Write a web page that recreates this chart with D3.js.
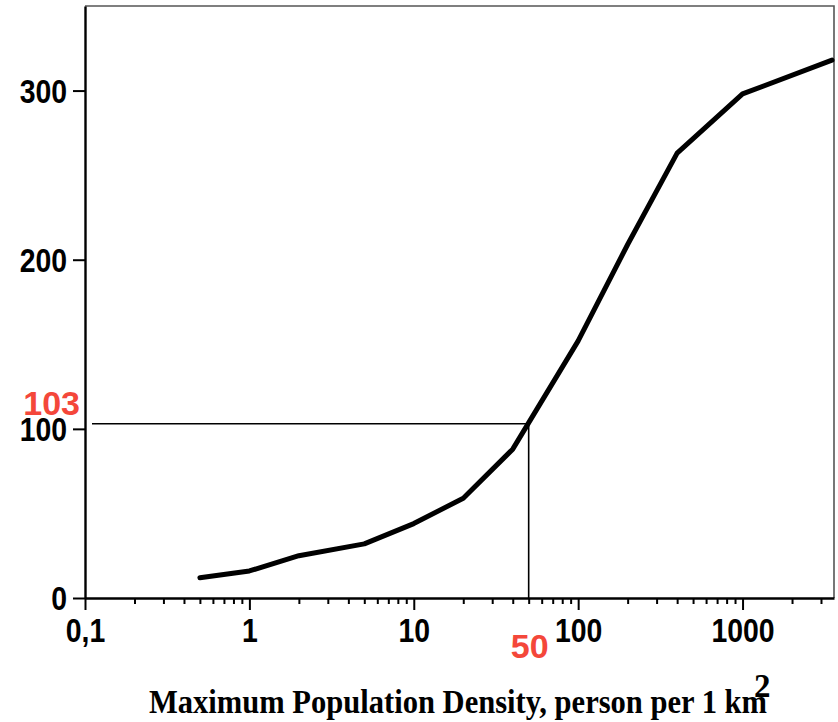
<!DOCTYPE html>
<html>
<head>
<meta charset="utf-8">
<script src="https://cdn.jsdelivr.net/npm/d3@7/dist/d3.min.js"></script>
<style>
  html, body { margin: 0; padding: 0; background: #fff; }
  svg { display: block; }
</style>
</head>
<body>
<svg id="chart" width="838" height="722"></svg>
<script>
// Maximum population density (person per km²) vs. the plotted quantity
const density = [0.5, 1, 2, 5, 10, 20, 40, 100, 200, 400, 1000, 3500];
const values  = [12, 16, 25, 32, 44, 59, 88, 152, 209, 263, 298, 318];

// axis ticks
const xMajorTicks  = [0.1, 1, 10, 100, 1000];
const xMajorLabels = ["0,1", "1", "10", "100", "1000"];
const yTicks       = [0, 100, 200, 300];

// highlighted reading
const markX = 50;
const markY = 103;
const markXLabel = "50";
const markYLabel = "103";

const titleText = "Maximum Population Density,  person per 1 km";
const titleSup  = "2";

const svg = d3.select("#chart");
const plotLeft = 85, plotRight = 834, plotTop = 6, plotBottom = 598;

const x = d3.scaleLog().domain([0.1, 3600]).range([plotLeft, plotRight]);
const y = d3.scaleLinear().domain([0, 350]).range([plotBottom, plotTop]);

const tickFont = "'Liberation Sans', Arial, Helvetica, sans-serif";
const red = "#f4473a";

// frame: top and right edges in gray
svg.append("path")
  .attr("d", `M${plotLeft},${plotTop}H${plotRight}V${plotBottom}`)
  .attr("fill", "none")
  .attr("stroke", "#555")
  .attr("stroke-width", 1.6);

// minor ticks on the log axis
const xMinor = [];
for (let p = -1; p <= 3; p++) {
  for (let m = 2; m <= 9; m++) {
    const v = m * Math.pow(10, p);
    if (v <= x.domain()[1]) xMinor.push(v);
  }
}
const gMinor = svg.append("g")
  .attr("transform", `translate(0,${plotBottom})`)
  .call(d3.axisBottom(x).tickValues(xMinor).tickSize(6).tickFormat(""));
gMinor.select(".domain").remove();
gMinor.selectAll("line").attr("stroke", "#000").attr("stroke-width", 2);

// major x axis
const gx = svg.append("g")
  .attr("transform", `translate(0,${plotBottom})`)
  .call(d3.axisBottom(x).tickValues(xMajorTicks).tickSize(12).tickSizeOuter(0)
    .tickFormat((d, i) => xMajorLabels[i]));
gx.select(".domain").attr("stroke", "#000").attr("stroke-width", 2.4);
gx.selectAll("line").attr("stroke", "#000").attr("stroke-width", 2);
gx.selectAll("text")
  .attr("y", 44).attr("dy", null)
  .attr("font-family", tickFont).attr("font-weight", "bold")
  .attr("font-size", 33).attr("fill", "#000");

// y axis
const gy = svg.append("g")
  .attr("transform", `translate(${plotLeft},0)`)
  .call(d3.axisLeft(y).tickValues(yTicks).tickSize(12).tickSizeOuter(0).tickPadding(6));
gy.select(".domain").attr("stroke", "#000").attr("stroke-width", 2.4);
gy.selectAll("line").attr("stroke", "#000").attr("stroke-width", 2);
gy.selectAll("text")
  .attr("dy", "0.36em")
  .attr("font-family", tickFont).attr("font-weight", "bold")
  .attr("font-size", 33).attr("fill", "#000");

// condensed tick lettering
svg.selectAll(".tick text").each(function () {
  const w = this.getComputedTextLength();
  if (w > 0) d3.select(this).attr("textLength", w * 0.86).attr("lengthAdjust", "spacingAndGlyphs");
});

// guide lines to the highlighted reading
svg.append("path")
  .attr("d", `M${plotLeft + 7},${y(markY)}H${x(markX)}V${plotBottom}`)
  .attr("fill", "none")
  .attr("stroke", "#000")
  .attr("stroke-width", 1.6);

// curve
const line = d3.line()
  .x((d, i) => x(density[i]))
  .y((d, i) => y(values[i]));
svg.append("path")
  .datum(values)
  .attr("d", line)
  .attr("fill", "none")
  .attr("stroke", "#000")
  .attr("stroke-width", 5)
  .attr("stroke-linejoin", "round")
  .attr("stroke-linecap", "round");

// red labels for the reading
svg.append("text")
  .attr("x", 80).attr("y", y(markY) - 9)
  .attr("text-anchor", "end")
  .attr("font-family", tickFont).attr("font-weight", "bold")
  .attr("font-size", 34).attr("fill", red)
  .text(markYLabel);
svg.append("text")
  .attr("x", x(markX) + 1).attr("y", 658)
  .attr("text-anchor", "middle")
  .attr("font-family", tickFont).attr("font-weight", "bold")
  .attr("font-size", 34).attr("fill", red)
  .text(markXLabel);

// axis title with superscript
const serif = "'Liberation Serif', 'Times New Roman', Times, serif";
svg.append("text")
  .attr("x", 149).attr("y", 713)
  .attr("font-family", serif).attr("font-weight", "bold")
  .attr("font-size", 33).attr("fill", "#000")
  .attr("textLength", 618).attr("lengthAdjust", "spacingAndGlyphs")
  .text(titleText);
svg.append("text")
  .attr("x", 754).attr("y", 697)
  .attr("font-family", serif).attr("font-weight", "bold")
  .attr("font-size", 33).attr("fill", "#000")
  .text(titleSup);
</script>
</body>
</html>
